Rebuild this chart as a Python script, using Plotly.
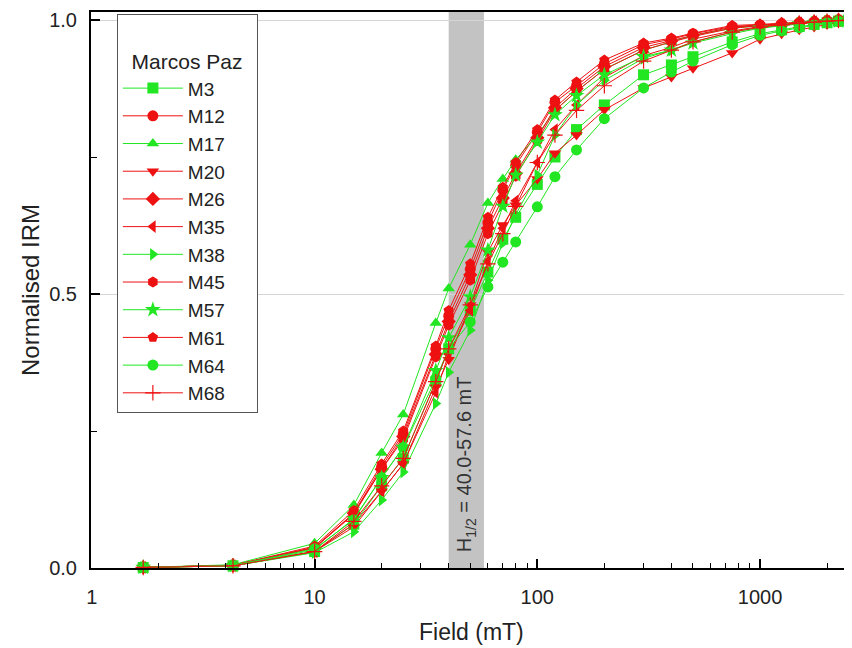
import math
import plotly.graph_objects as go

field = [1.7, 4.3, 10, 15, 20, 25, 35, 40, 50, 60, 70, 80, 100, 120, 150, 200,
         300, 400, 500, 750, 1000, 1250, 1500, 1750, 2000, 2250, 2500]

names = ["M3", "M12", "M17", "M20", "M26", "M35", "M38", "M45", "M57", "M61", "M64", "M68"]

M3 = [0.001, 0.004, 0.030, 0.080, 0.150, 0.200, 0.340, 0.400, 0.470, 0.540, 0.600, 0.640, 0.700, 0.750,
      0.800, 0.845, 0.900, 0.918, 0.933, 0.960, 0.975, 0.982, 0.988, 0.992, 0.995, 0.998, 1.000]
M12 = [0.001, 0.005, 0.038, 0.100, 0.185, 0.245, 0.400, 0.460, 0.545, 0.630, 0.690, 0.735, 0.795, 0.850,
       0.880, 0.920, 0.955, 0.965, 0.975, 0.988, 0.991, 0.993, 0.995, 0.997, 0.999, 1.000, 1.000]
M17 = [0.001, 0.006, 0.045, 0.115, 0.210, 0.280, 0.447, 0.510, 0.590, 0.666, 0.710, 0.745, 0.790, 0.835,
       0.870, 0.910, 0.945, 0.960, 0.972, 0.985, 0.990, 0.993, 0.995, 0.997, 0.998, 0.999, 1.000]
M20 = [0.001, 0.004, 0.030, 0.075, 0.140, 0.190, 0.330, 0.380, 0.480, 0.577, 0.626, 0.662, 0.710, 0.757,
       0.790, 0.836, 0.876, 0.896, 0.912, 0.940, 0.965, 0.975, 0.982, 0.987, 0.992, 0.996, 1.000]
M26 = [0.001, 0.005, 0.036, 0.100, 0.180, 0.240, 0.390, 0.450, 0.535, 0.620, 0.675, 0.720, 0.785, 0.840,
       0.875, 0.915, 0.950, 0.962, 0.972, 0.987, 0.990, 0.993, 0.995, 0.997, 0.998, 1.000, 1.000]
M35 = [0.001, 0.004, 0.030, 0.080, 0.140, 0.190, 0.320, 0.390, 0.470, 0.560, 0.620, 0.670, 0.740, 0.800,
       0.845, 0.895, 0.935, 0.950, 0.965, 0.980, 0.988, 0.992, 0.995, 0.997, 0.998, 0.999, 1.000]
M38 = [0.001, 0.004, 0.028, 0.066, 0.124, 0.175, 0.300, 0.357, 0.434, 0.525, 0.593, 0.645, 0.717, 0.790,
       0.845, 0.890, 0.930, 0.945, 0.960, 0.978, 0.986, 0.990, 0.994, 0.996, 0.998, 0.999, 1.000]
M45 = [0.001, 0.005, 0.037, 0.098, 0.180, 0.235, 0.385, 0.443, 0.525, 0.610, 0.665, 0.715, 0.780, 0.835,
       0.870, 0.910, 0.945, 0.960, 0.970, 0.985, 0.990, 0.992, 0.995, 0.997, 0.998, 0.999, 1.000]
M57 = [0.001, 0.004, 0.033, 0.090, 0.165, 0.220, 0.360, 0.420, 0.495, 0.580, 0.660, 0.717, 0.777, 0.827,
       0.862, 0.900, 0.933, 0.945, 0.958, 0.975, 0.985, 0.990, 0.993, 0.995, 0.997, 0.998, 1.000]
M61 = [0.001, 0.005, 0.040, 0.105, 0.190, 0.250, 0.405, 0.470, 0.555, 0.640, 0.695, 0.740, 0.800, 0.854,
       0.887, 0.927, 0.958, 0.967, 0.976, 0.990, 0.992, 0.994, 0.996, 0.998, 0.999, 1.000, 1.000]
M64 = [0.001, 0.005, 0.035, 0.088, 0.165, 0.220, 0.345, 0.400, 0.449, 0.513, 0.558, 0.595, 0.659, 0.714,
       0.763, 0.820, 0.876, 0.905, 0.925, 0.955, 0.972, 0.980, 0.986, 0.991, 0.995, 0.998, 1.000]
M68 = [0.001, 0.004, 0.030, 0.085, 0.150, 0.200, 0.340, 0.400, 0.480, 0.555, 0.610, 0.660, 0.740, 0.790,
       0.835, 0.880, 0.925, 0.945, 0.960, 0.978, 0.987, 0.991, 0.994, 0.996, 0.998, 0.999, 1.000]

series = [M3, M12, M17, M20, M26, M35, M38, M45, M57, M61, M64, M68]

h_half_low = 40.0
h_half_high = 57.6

x_major = [1, 10, 100, 1000]
x_minor = [m * d for d in (1, 10, 100, 1000) for m in range(2, 10) if m * d < 2600]

GREEN = "#22e622"
RED = "#ee1111"
colors = [GREEN, RED, GREEN, RED, RED, RED, GREEN, RED, GREEN, RED, GREEN, RED]
symbols = ["square", "circle", "triangle-up", "triangle-down", "diamond", "triangle-left",
           "triangle-right", "hexagon", "star", "pentagon", "circle", "cross-thin"]

FONT = "Liberation Sans, Arial, sans-serif"

fig = go.Figure()
for name, ys, c, s in zip(names, series, colors, symbols):
    mk = dict(symbol=s, size=11, color=c, line=dict(width=0, color=c))
    if s == "cross-thin":
        mk = dict(symbol=s, size=11, color=c, line=dict(width=1.2, color=c))
    if s == "star":
        mk["size"] = 12
    fig.add_trace(go.Scatter(
        x=field, y=ys, name=name, mode="lines+markers",
        line=dict(color=c, width=1), marker=mk, cliponaxis=False,
    ))

fig.add_shape(type="rect", xref="x", yref="y domain", x0=h_half_low, x1=h_half_high,
              y0=0, y1=1, fillcolor="#c3c3c3", line=dict(width=0), layer="below")

fig.add_annotation(x=math.log10(math.sqrt(h_half_low * h_half_high)), y=0.19, xref="x", yref="y",
                   text=f"H<sub>1/2</sub> = {h_half_low:.1f}-{h_half_high:.1f} mT",
                   textangle=-90, showarrow=False,
                   font=dict(family=FONT, size=20, color="#333333"))

# axis titles placed as annotations
fig.add_annotation(x=0, y=0.5, xref="paper", yref="paper", xshift=-61,
                   xanchor="center", yanchor="middle",
                   text="Normalised IRM", textangle=-90, showarrow=False,
                   font=dict(family=FONT, size=24, color="#222222"))
fig.add_annotation(x=0.5, y=0, xref="paper", yref="paper", yshift=-64,
                   xanchor="center", yanchor="middle",
                   text="Field (mT)", showarrow=False,
                   font=dict(family=FONT, size=23, color="#222222"))

fig.update_layout(
    width=852, height=648,
    margin=dict(l=83, r=8, t=4, b=88),
    paper_bgcolor="white", plot_bgcolor="white",
    font=dict(family=FONT, size=20, color="#222222"),
    showlegend=True,
    legend=dict(
        title=dict(text="<br>&nbsp;&nbsp;Marcos Paz&nbsp;&nbsp;", font=dict(size=21)),
        x=0.034, y=0.997, xanchor="left", yanchor="top",
        bgcolor="white", bordercolor="#555555", borderwidth=1,
        font=dict(size=19), tracegroupgap=0, itemwidth=60,
    ),
)

fig.update_xaxes(
    type="log", range=[-0.004, 3.413], automargin=False,
    tickvals=x_major, ticktext=[str(v) for v in x_major],
    ticks="inside", ticklen=9, tickwidth=1.5, tickcolor="black",
    ticklabelstandoff=10,
    showline=True, linewidth=2, linecolor="black", mirror=True,
    showgrid=False, zeroline=False,
    minor=dict(tickvals=x_minor, ticks="inside", ticklen=5, tickwidth=1.2,
               tickcolor="black", showgrid=False),
)

fig.update_yaxes(
    range=[0, 1.0146], automargin=False,
    tickvals=[0, 0.5, 1.0], ticktext=["0.0", "0.5", "1.0"],
    ticks="inside", ticklen=9, tickwidth=1.5, tickcolor="black",
    ticklabelstandoff=8,
    showline=True, linewidth=2, linecolor="black",
    showgrid=True, gridcolor="#d5d5d5", gridwidth=1, zeroline=False,
    minor=dict(tickvals=[0.25, 0.75], ticks="inside", ticklen=6, tickwidth=1.2,
               tickcolor="black", showgrid=False),
)

fig.write_html("out.html")
